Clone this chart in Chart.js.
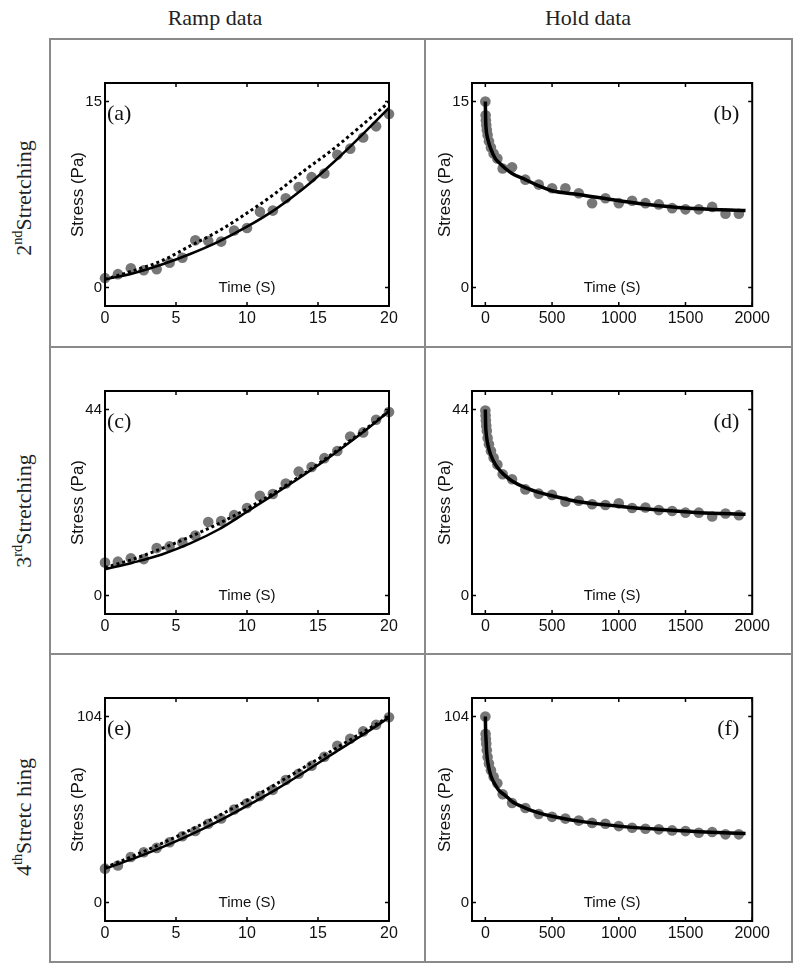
<!DOCTYPE html>
<html>
<head>
<meta charset="utf-8">
<script src="https://cdn.jsdelivr.net/npm/chart.js@4.4.0/dist/chart.umd.min.js"></script>
<style>
  html, body { margin: 0; padding: 0; background: #fff; }
  #page { position: relative; width: 800px; height: 971px; overflow: hidden; }
  .rule { position: absolute; background: #8a8a8a; }
  .head { position: absolute; top: 5px; font-family: "Liberation Serif", serif; font-size: 22px; color: #222;
          transform: translateX(-50%); white-space: nowrap; }
  .rowlab { position: absolute; font-family: "Liberation Serif", serif; font-size: 22px; color: #222; white-space: nowrap;
            transform: translate(-50%, -50%) rotate(-90deg); }
  .rowlab sup { font-size: 0.65em; }
  canvas { position: absolute; }
</style>
</head>
<body>
<div id="page">
  <div class="head" style="left:215px">Ramp data</div>
  <div class="head" style="left:588px">Hold data</div>
  <div class="rowlab" style="left:23px; top:198px">2<sup>nd</sup>Stretching</div>
  <div class="rowlab" style="left:23px; top:511px">3<sup>rd</sup>Stretching</div>
  <div class="rowlab" style="left:23px; top:817px">4<sup>th</sup>Stretc hing</div>
</div>
<script>
// time bases
const rampTime = [0, 0.91, 1.82, 2.73, 3.64, 4.55, 5.45, 6.36, 7.27, 8.18, 9.09, 10, 10.91, 11.82, 12.73, 13.64, 14.55, 15.45, 16.36, 17.27, 18.18, 19.09, 20];
const rampFitTime = [0, 2, 4, 6, 8, 10, 12, 14, 16, 18, 20];
const holdTime = [0, 2, 4, 7, 11, 17, 27, 42, 62, 90, 130, 200, 300, 400, 500, 600, 700, 800, 900, 1000, 1100, 1200, 1300, 1400, 1500, 1600, 1700, 1800, 1900];
const holdFitTime = [0, 2, 5, 10, 20, 40, 75, 100, 150, 200, 300, 400, 500, 700, 1000, 1300, 1600, 1950];

const rampXTicks = [0, 5, 10, 15, 20];
const holdXTicks = [0, 500, 1000, 1500, 2000];

// 2nd stretching
const aData = [0.75, 1.07, 1.55, 1.39, 1.47, 2.0, 2.4, 3.8, 3.75, 3.7, 4.6, 4.8, 6.1, 6.2, 7.2, 8.1, 8.9, 9.2, 10.7, 11.2, 12.1, 13.0, 14.0];
const aSolid = [0.65, 1.15, 1.85, 2.7, 3.7, 4.9, 6.3, 8.0, 10.0, 12.2, 14.5];
const aDotted = [0.65, 1.35, 2.15, 3.35, 4.55, 6.0, 7.6, 9.4, 11.1, 13.0, 14.95];
const bData = [15.0, 13.9, 13.5, 13.1, 12.7, 12.3, 11.8, 11.3, 10.8, 10.4, 9.6, 9.7, 8.7, 8.3, 8.0, 8.0, 7.6, 6.8, 7.2, 6.8, 7.0, 6.8, 6.7, 6.4, 6.3, 6.3, 6.5, 5.95, 5.95];
const bFit = [15.0, 13.6, 12.9, 12.4, 11.9, 11.2, 10.4, 10.1, 9.6, 9.2, 8.7, 8.2, 7.8, 7.5, 7.0, 6.6, 6.35, 6.2];

// 3rd stretching
const cData = [7.8, 8.0, 8.8, 8.6, 11.2, 11.6, 12.5, 14.2, 17.4, 17.6, 19.0, 20.7, 23.6, 24.0, 26.5, 29.3, 30.4, 32.5, 34.2, 37.6, 38.6, 41.6, 43.4];
const cSolid = [6.2, 7.8, 9.7, 12.3, 15.6, 19.8, 24.1, 28.5, 33.2, 38.2, 43.6];
const cDotted = [6.6, 8.6, 11.1, 13.9, 17.0, 20.5, 24.5, 28.8, 33.5, 38.5, 43.6];
const dData = [43.8, 42.6, 41.4, 40.2, 39.0, 37.3, 35.8, 34.2, 32.6, 31.0, 28.7, 27.5, 25.1, 24.1, 23.8, 22.2, 22.4, 21.6, 21.4, 21.8, 20.7, 20.8, 20.2, 20.0, 19.6, 19.6, 18.7, 19.4, 19.0];
const dFit = [44.0, 40.5, 38.8, 37.3, 35.5, 33.3, 31.0, 29.9, 28.3, 27.1, 25.5, 24.4, 23.6, 22.2, 21.1, 20.2, 19.6, 19.2];

// 4th stretching
const eData = [18.9, 20.7, 25.4, 28.1, 30.5, 33.7, 37.0, 40.0, 44.0, 47.0, 52.0, 55.5, 59.5, 63.0, 68.5, 72.0, 76.5, 81.5, 87.7, 91.6, 95.7, 99.4, 103.6];
const eSolid = [18.9, 24.5, 30.8, 37.8, 45.5, 54.0, 63.0, 72.7, 83.0, 93.0, 103.4];
const eDotted = [19.5, 26.0, 33.0, 40.5, 48.5, 57.0, 66.0, 75.5, 85.0, 94.5, 104.0];
const fData = [104.0, 94.3, 91.5, 88.8, 85.1, 81.4, 77.7, 74.0, 70.3, 66.7, 60.5, 55.6, 52.8, 49.5, 47.9, 46.9, 45.8, 44.5, 44.0, 42.7, 41.8, 41.2, 40.9, 40.3, 39.9, 39.0, 39.4, 38.1, 38.1];
const fFit = [104.0, 96.0, 91.5, 84.0, 77.7, 71.2, 65.7, 62.9, 59.8, 56.5, 52.8, 50.1, 48.2, 45.5, 42.7, 40.9, 39.6, 38.5];

const panelLetters = ['(a)', '(b)', '(c)', '(d)', '(e)', '(f)'];
const stressMax = [15, 15, 44, 44, 104, 104];

// layout
const PAD_L = 55, PAD_T = 10, PAD_R = 14, PAD_B = 30, PLOT_H = 225;
const colLeft = [105, 472], colWidth = [284, 287];
const rowTop = [81, 389, 696];
const SANS = '"Liberation Sans", Arial, sans-serif';

const page = document.getElementById('page');

function rule(l, t, w, h) {
  const d = document.createElement('div');
  d.className = 'rule';
  Object.assign(d.style, { left: l + 'px', top: t + 'px', width: w + 'px', height: h + 'px' });
  page.appendChild(d);
}
rule(49, 38, 744, 2); rule(49, 961, 744, 2);
rule(49, 38, 2, 925); rule(791, 38, 2, 925); rule(424, 38, 2, 925);
rule(49, 346, 744, 2); rule(49, 653, 744, 2);

const xy = (xs, ys) => xs.map((x, i) => ({ x, y: ys[i] }));

const boxPlugin = {
  id: 'box',
  afterDatasetsDraw(chart, args, opts) {
    const { ctx, chartArea: a, scales: { x, y } } = chart;
    ctx.save();
    ctx.strokeStyle = '#000';
    ctx.lineWidth = 2;
    ctx.strokeRect(a.left, a.top, a.right - a.left, a.bottom - a.top);
    ctx.lineWidth = 1.5;
    ctx.beginPath();
    x.ticks.forEach(t => {
      const px = x.getPixelForValue(t.value);
      ctx.moveTo(px, a.bottom); ctx.lineTo(px, a.bottom - 4);
      ctx.moveTo(px, a.top); ctx.lineTo(px, a.top + 4);
    });
    y.ticks.forEach(t => {
      const py = y.getPixelForValue(t.value);
      ctx.moveTo(a.left, py); ctx.lineTo(a.left + 4, py);
      ctx.moveTo(a.right, py); ctx.lineTo(a.right - 4, py);
    });
    ctx.stroke();
    ctx.fillStyle = '#111';
    ctx.font = '22px "Liberation Serif", serif';
    ctx.textBaseline = 'middle';
    const ly = y.getPixelForValue(opts.top) + 13;
    if (opts.side === 'left') {
      ctx.textAlign = 'left';
      ctx.fillText(opts.letter, a.left + 2, ly);
    } else {
      ctx.textAlign = 'right';
      ctx.fillText(opts.letter, a.right - 13, ly);
    }
    ctx.restore();
  }
};

function makePanel(i) {
  const col = i % 2, row = Math.floor(i / 2);
  const isRamp = col === 0;
  const w = colWidth[col] + PAD_L + PAD_R, h = PLOT_H + PAD_T + PAD_B;
  const canvas = document.createElement('canvas');
  canvas.width = w; canvas.height = h;
  canvas.style.left = (colLeft[col] - PAD_L) + 'px';
  canvas.style.top = (rowTop[row] - PAD_T) + 'px';
  page.appendChild(canvas);

  const top = stressMax[i];
  const pts = [aData, bData, cData, dData, eData, fData][i];
  const datasets = [{
    data: xy(isRamp ? rampTime : holdTime, pts),
    pointRadius: 5.3, pointBackgroundColor: '#777', pointBorderWidth: 0,
    showLine: false, order: 3
  }];
  if (isRamp) {
    const solid = [aSolid, null, cSolid, null, eSolid][i];
    const dotted = [aDotted, null, cDotted, null, eDotted][i];
    datasets.push({ data: xy(rampFitTime, solid), showLine: true, borderColor: '#000', borderWidth: 2.5,
      pointRadius: 0, cubicInterpolationMode: 'monotone', order: 1 });
    datasets.push({ data: xy(rampFitTime, dotted), showLine: true, borderColor: '#000', borderWidth: 3,
      borderDash: [3, 3], pointRadius: 0, cubicInterpolationMode: 'monotone', order: 0 });
  } else {
    const fit = [null, bFit, null, dFit, null, fFit][i];
    datasets.push({ data: xy(holdFitTime, fit), showLine: true, borderColor: '#000', borderWidth: 3.5,
      pointRadius: 0, cubicInterpolationMode: 'monotone', order: 0 });
  }
  datasets.forEach(d => { d.clip = false; });

  const xTicks = isRamp ? rampXTicks : holdXTicks;
  new Chart(canvas, {
    type: 'scatter',
    data: { datasets },
    options: {
      responsive: false,
      animation: false,
      events: [],
      layout: { padding: { left: 0, top: PAD_T, right: PAD_R, bottom: 0 } },
      plugins: {
        legend: { display: false },
        tooltip: { enabled: false },
        box: { letter: panelLetters[i], side: isRamp ? 'left' : 'right', top }
      },
      scales: {
        x: {
          type: 'linear',
          min: isRamp ? 0 : -100,
          max: isRamp ? 20 : 2000,
          grid: { display: false, drawTicks: false },
          border: { display: false },
          afterBuildTicks: s => { s.ticks = xTicks.map(v => ({ value: v })); },
          afterFit: s => { s.height = PAD_B; },
          ticks: { padding: 3, color: '#111', font: { family: SANS, size: 16 }, maxRotation: 0, autoSkip: false,
                   callback: v => String(v) },
          title: { display: true, text: 'Time (S)', color: '#111', font: { family: SANS, size: 15 },
                   padding: { top: 0, bottom: PAD_B + 9 } }
        },
        y: {
          type: 'linear',
          min: -0.1 * top,
          max: 1.1 * top,
          grid: { display: false, drawTicks: false },
          border: { display: false },
          afterBuildTicks: s => { s.ticks = [0, top].map(v => ({ value: v })); },
          afterFit: s => { s.width = PAD_L; },
          ticks: { padding: 3, color: '#111', font: { family: SANS, size: 15 }, callback: v => String(v) },
          title: { display: true, text: 'Stress (Pa)', color: '#111', font: { family: SANS, size: 17 },
                   padding: { top: 18, bottom: 0 } }
        }
      }
    },
    plugins: [boxPlugin]
  });
}

for (let i = 0; i < 6; i++) makePanel(i);
</script>
</body>
</html>
